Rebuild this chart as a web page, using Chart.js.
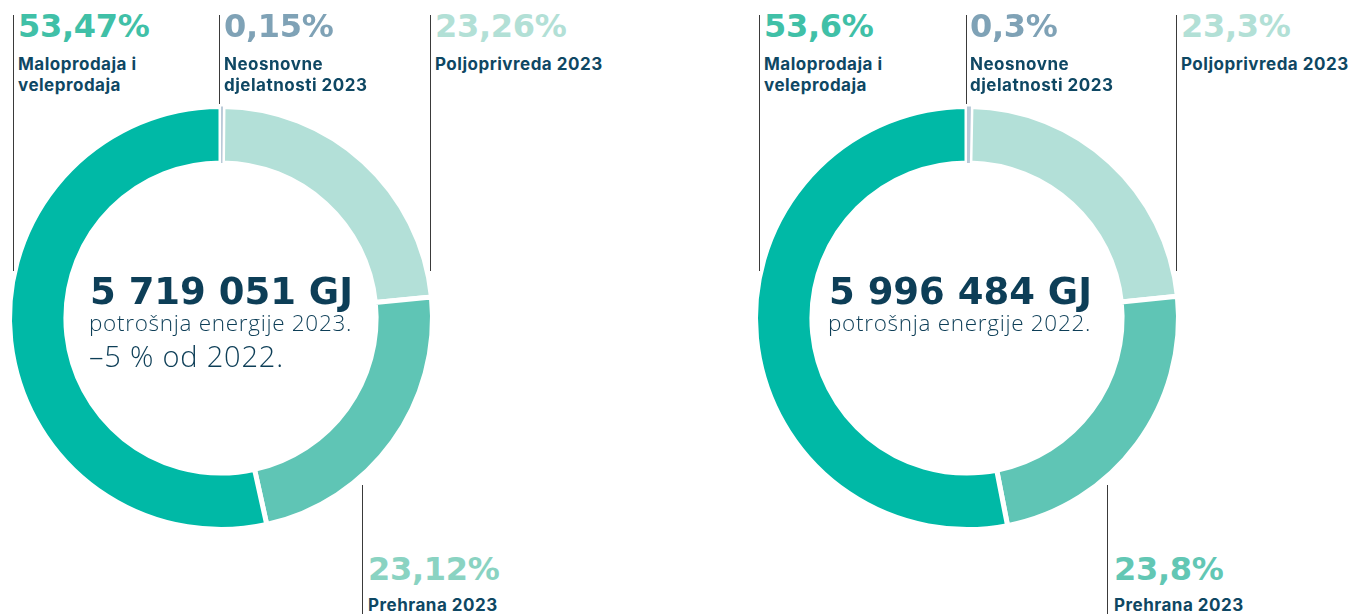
<!DOCTYPE html>
<html>
<head>
<meta charset="utf-8">
<script src="https://cdn.jsdelivr.net/npm/chart.js@4"></script>
<style>
  html, body { margin: 0; padding: 0; background: #ffffff; }
  body { width: 1354px; height: 614px; position: relative; overflow: hidden; }
  canvas { position: absolute; }
  .t { position: absolute; white-space: nowrap; }
  .pct { font-family: "DejaVu Sans", sans-serif; font-weight: 700; font-size: 32px; line-height: 32px; letter-spacing: -0.3px; }
  .lbl { font-family: "Inter", sans-serif; font-weight: 700; font-size: 17px; line-height: 21px; letter-spacing: 0.5px; color: #0e4763; }
  .big { font-family: "DejaVu Sans", sans-serif; font-weight: 700; font-size: 37px; line-height: 40px; color: #0d3e57; letter-spacing: 0px; }
  .sub { font-family: "Open Sans", sans-serif; font-weight: 300; font-size: 22.5px; line-height: 26px; color: #0d3e57; letter-spacing: 0.7px; }
  .sub2 { font-family: "Open Sans", sans-serif; font-weight: 300; font-size: 29px; line-height: 32px; color: #0d3e57; letter-spacing: 0.8px; }
  .vl { position: absolute; width: 1px; background: #3a3a3a; }
</style>
</head>
<body>
<canvas id="c1" width="440" height="440" style="left:1px; top:98px; width:440px; height:440px;"></canvas>
<canvas id="c2" width="440" height="440" style="left:747px; top:98px; width:440px; height:440px;"></canvas>

<!-- connector lines -->
<div class="vl" style="left:13px; top:15px; height:256px;"></div>
<div class="vl" style="left:219px; top:15px; height:89px;"></div>
<div class="vl" style="left:430px; top:15px; height:256px;"></div>
<div class="vl" style="left:362px; top:485px; height:129px;"></div>

<div class="vl" style="left:759px; top:15px; height:256px;"></div>
<div class="vl" style="left:966px; top:15px; height:89px;"></div>
<div class="vl" style="left:1176px; top:15px; height:256px;"></div>
<div class="vl" style="left:1107px; top:485px; height:129px;"></div>

<div id="labels"></div>

<script>
// ---------- data ----------
const categories = ["Poljoprivreda 2023", "Prehrana 2023", "Maloprodaja i veleprodaja", "Neosnovne djelatnosti 2023"];
const values2023 = [23.26, 23.12, 53.47, 0.15];
const values2022 = [23.3, 23.8, 53.6, 0.3];
const pctText2023 = ["23,26%", "23,12%", "53,47%", "0,15%"];
const pctText2022 = ["23,3%", "23,8%", "53,6%", "0,3%"];
const totalText = ["5 719 051 GJ", "5 996 484 GJ"];
const subText = ["potrošnja energije 2023.", "potrošnja energije 2022."];
const changeText = "–5 % od 2022.";

const segColors = ["#b3e0d8", "#5fc5b5", "#00b9a6", "#b9cad8"];
const pctColors2023 = ["#b2e0d6", "#8ad3c2", "#40c0a7", "#7fa2b6"];
const pctColors2022 = ["#b2e0d6", "#62c7b4", "#40c0a7", "#7fa2b6"];

// ---------- charts ----------
function makeChart(id, values) {
  const total = values.reduce((a, b) => a + b, 0);
  const rot = values[3] / total * 360; // small slice sits at the top, drawn last
  return new Chart(document.getElementById(id), {
    type: "doughnut",
    data: {
      labels: categories,
      datasets: [{
        data: values,
        backgroundColor: segColors,
        borderColor: "#ffffff",
        borderWidth: [5, 5, 5, 0],
        hoverOffset: 0
      }]
    },
    options: {
      responsive: false,
      maintainAspectRatio: false,
      animation: false,
      events: [],
      rotation: rot,
      radius: 211.5,
      cutout: 159.5,
      layout: { padding: 0 },
      plugins: { legend: { display: false }, tooltip: { enabled: false } }
    }
  });
}
makeChart("c1", values2023);
makeChart("c2", values2022);

// ---------- text ----------
const L = document.getElementById("labels");
function add(cls, text, x, y, color) {
  const d = document.createElement("div");
  d.className = "t " + cls;
  d.style.left = x + "px";
  d.style.top = y + "px";
  if (color) d.style.color = color;
  d.innerHTML = text;
  L.appendChild(d);
}
function labelBlock(offX, pcts, cols) {
  add("pct", pcts[2], offX + 18, 10, cols[2]);
  add("lbl", "Maloprodaja i<br>veleprodaja", offX + 18, 54);
  add("pct", pcts[3], offX + 224, 10, cols[3]);
  add("lbl", "Neosnovne<br>djelatnosti 2023", offX + 224, 54);
  add("pct", pcts[0], offX + 435, 10, cols[0]);
  add("lbl", categories[0], offX + 435, 54);
}
labelBlock(0, pctText2023, pctColors2023);
labelBlock(746, pctText2022, pctColors2022);
add("pct", pctText2023[1], 368, 553, pctColors2023[1]);
add("lbl", categories[1], 368, 595);
add("pct", pctText2022[1], 1114, 553, pctColors2022[1]);
add("lbl", categories[1], 1114, 595);

add("big", totalText[0], 90, 272);
add("sub", subText[0], 89, 310);
add("sub2", changeText, 89, 340);
add("big", totalText[1], 829, 272);
add("sub", subText[1], 828, 310);
</script>
</body>
</html>
